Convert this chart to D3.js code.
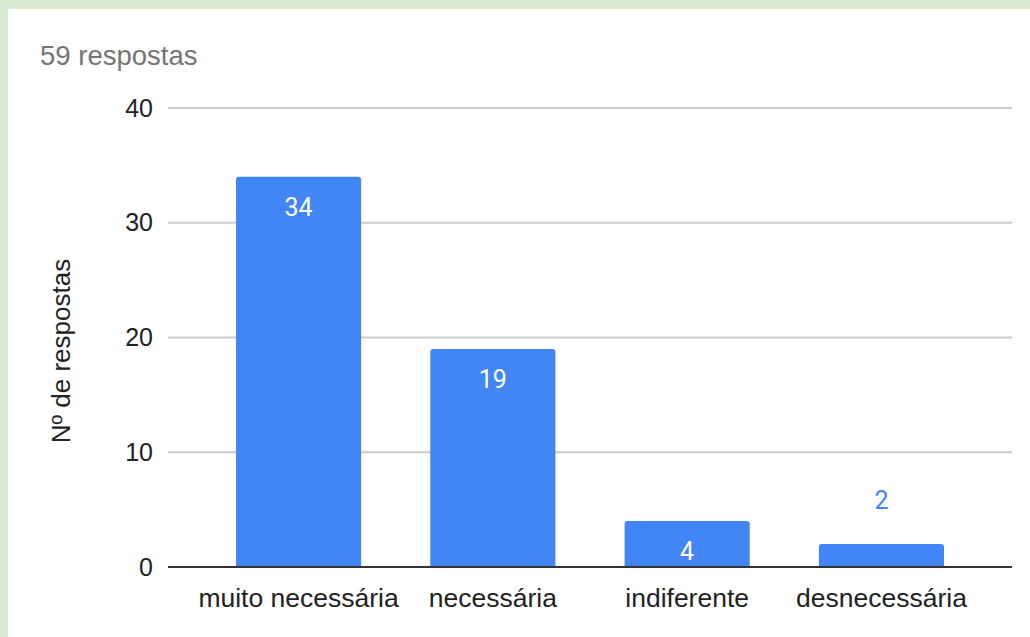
<!DOCTYPE html>
<html><head><meta charset="utf-8">
<script src="https://cdn.jsdelivr.net/npm/d3@7"></script>
<style>html,body{margin:0;padding:0;background:#d9ead3;}svg{display:block;}</style>
</head><body>
<svg id="c" width="1030" height="637"></svg>
<script>
const categories = ["muito necessária", "necessária", "indiferente", "desnecessária"];
const values = [34, 19, 4, 2];
const yTicks = [0, 10, 20, 30, 40];
const subtitle = "59 respostas";
const yTitle = "Nº de respostas";

const svg = d3.select("#c");
const font = "'Liberation Sans', Arial, sans-serif";
svg.append("rect").attr("x", 8).attr("y", 9).attr("width", 1022).attr("height", 628).attr("fill", "#fff");

const x = d3.scaleBand().domain(categories).range([168, 1012]).paddingInner(0.356).paddingOuter(0.35);
const y = d3.scaleLinear().domain([0, 40]).range([567, 108]);

svg.append("text").attr("x", 40).attr("y", 65).attr("font-family", font).attr("font-size", 27.5)
  .attr("fill", "#757575").text(subtitle);

const yAxis = d3.axisLeft(y).tickValues(yTicks).tickSize(0).tickPadding(15).tickFormat(d3.format("d"));
const ga = svg.append("g").attr("transform", "translate(168,0)").call(yAxis);
ga.select(".domain").remove();
ga.selectAll("text").attr("font-family", font).attr("font-size", 25).attr("fill", "#222");
svg.append("g").selectAll("line").data(yTicks.filter(d => d > 0)).join("line")
  .attr("x1", 168).attr("x2", 1012).attr("y1", d => y(d)).attr("y2", d => y(d))
  .attr("stroke", "#cccccc").attr("stroke-width", 2);

const r = 3;
svg.append("g").selectAll("path").data(values).join("path")
  .attr("fill", "#4285f4")
  .attr("d", (v, i) => {
    const x0 = x(categories[i]), w = x.bandwidth(), y0 = y(v), yb = y(0);
    return `M${x0},${yb} V${y0 + r} Q${x0},${y0} ${x0 + r},${y0} H${x0 + w - r} Q${x0 + w},${y0} ${x0 + w},${y0 + r} V${yb} Z`;
  });

svg.append("line").attr("x1", 168).attr("x2", 1012).attr("y1", y(0)).attr("y2", y(0))
  .attr("stroke", "#333").attr("stroke-width", 2);

const xAxis = d3.axisBottom(x).tickSize(0).tickPadding(21);
const gx = svg.append("g").attr("transform", `translate(0,${y(0)})`).call(xAxis);
gx.select(".domain").remove();
gx.selectAll("text").attr("font-family", font).attr("font-size", 26.5).attr("fill", "#222");

svg.append("g").selectAll("text").data(values).join("text")
  .attr("x", (v, i) => x(categories[i]) + x.bandwidth() / 2)
  .attr("y", v => (y(0) - y(v)) > 40 ? y(v) + 30 : y(v) - 44)
  .attr("dy", "0.35em")
  .attr("text-anchor", "middle")
  .attr("font-family", "Roboto, sans-serif").attr("font-size", 25)
  .attr("fill", v => (y(0) - y(v)) > 40 ? "#fff" : "#4285f4")
  .text(v => v);

svg.append("text").attr("transform", "translate(61,351) rotate(-90)")
  .attr("text-anchor", "middle").attr("dy", "0.35em")
  .attr("font-family", font).attr("font-size", 26).attr("fill", "#222").text(yTitle);
</script>
</body></html>
